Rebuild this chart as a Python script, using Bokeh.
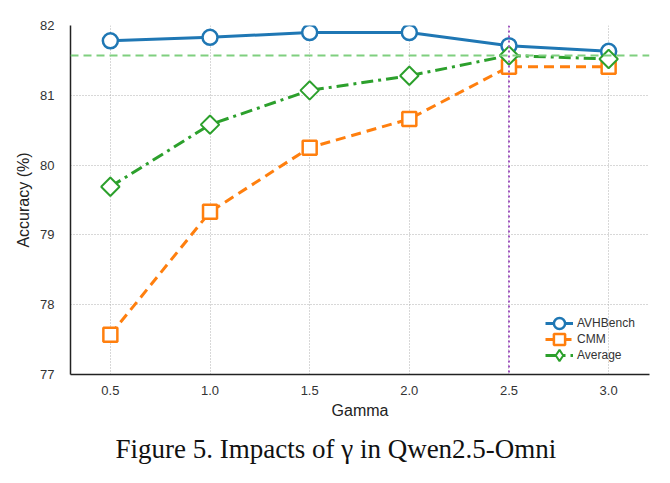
import math
from bokeh.plotting import figure
from bokeh.models import Span, Title, Legend, LegendItem, Range1d, FixedTicker
from bokeh.embed import file_html
from bokeh.resources import INLINE

gamma = [0.5, 1.0, 1.5, 2.0, 2.5, 3.0]
avhbench = [81.78, 81.83, 81.90, 81.90, 81.71, 81.63]
cmm = [77.57, 79.33, 80.25, 80.66, 81.41, 81.41]
average = [79.69, 80.58, 81.07, 81.28, 81.57, 81.52]
avg_ref = 81.57
best_gamma = 2.5
x_ticks = [0.5, 1.0, 1.5, 2.0, 2.5, 3.0]
x_tick_labels = ["0.5", "1.0", "1.5", "2.0", "2.5", "3.0"]
y_ticks = [77, 78, 79, 80, 81, 82]
series_names = ["AVHBench", "CMM", "Average"]

FONT = "Liberation Sans"

p = figure(width=670, height=483, output_backend="svg", toolbar_location=None,
           x_range=Range1d(0.30, 3.205), y_range=Range1d(77, 82),
           min_border_left=70, min_border_right=21, min_border_top=25,
           min_border_bottom=109)
p.outline_line_color = None
p.background_fill_color = "white"
p.border_fill_color = "white"

for ax in (p.xaxis[0], p.yaxis[0]):
    ax.axis_line_color = "#222222"
    ax.axis_line_width = 1.5
    ax.major_tick_line_color = None
    ax.minor_tick_line_color = None
    ax.major_label_text_font = FONT
    ax.major_label_text_font_size = "13px"
    ax.major_label_text_color = "#333333"
    ax.axis_label_text_font = FONT
    ax.axis_label_text_font_size = "16px"
    ax.axis_label_text_font_style = "normal"
    ax.axis_label_text_color = "#222222"

p.xaxis.ticker = FixedTicker(ticks=x_ticks)
p.xaxis.major_label_overrides = {t: s for t, s in zip(x_ticks, x_tick_labels)}
p.yaxis.ticker = FixedTicker(ticks=y_ticks)
p.xaxis.axis_label = "Gamma"
p.yaxis.axis_label = "Accuracy (%)"
p.xaxis.major_label_standoff = 5
p.yaxis.major_label_standoff = 10
p.xaxis.axis_label_standoff = 4

for g in (p.xgrid[0], p.ygrid[0]):
    g.grid_line_color = "#b0b0b0"
    g.grid_line_dash = "1 2"
    g.grid_line_width = 1

p.add_layout(Span(location=avg_ref, dimension="width", line_color="#7fcf7f",
                  line_dash="8 5", line_width=2))
p.add_layout(Span(location=best_gamma, dimension="height", line_color="#a053c0",
                  line_dash="2 3", line_width=2))

blue, orange, green = "#1f77b4", "#ff7f0e", "#2ca02c"

l1 = p.line(gamma, avhbench, line_color=blue, line_width=3)
m1 = p.scatter(gamma, avhbench, marker="circle", size=15, fill_color="white",
               line_color=blue, line_width=2.5)
l2 = p.line(gamma, cmm, line_color=orange, line_width=3, line_dash="10 6")
m2 = p.scatter(gamma, cmm, marker="square", size=14, fill_color="white",
               line_color=orange, line_width=2.5)
l3 = p.line(gamma, average, line_color=green, line_width=3, line_dash="12 5 3 5")
# diamond used for the legend glyph; hidden under the rotated squares below
m3_legend = p.scatter(gamma, average, marker="diamond", size=12, fill_color="white",
                      line_color=green, line_width=2)
m3 = p.scatter(gamma, average, marker="square", size=13, angle=math.pi / 4,
               fill_color="white", line_color=green, line_width=2)

# one legend per entry, stacked tightly (screen offsets from frame bottom-left)
legend_rows = [(series_names[0], [l1, m1], 36),
               (series_names[1], [l2, m2], 20),
               (series_names[2], [l3, m3_legend], 4)]
for name, rends, yoff in legend_rows:
    lg = Legend(items=[LegendItem(label=name, renderers=rends)],
                location=(475, yoff), border_line_color=None,
                background_fill_alpha=0.0, label_text_font=FONT,
                label_text_font_size="12px", label_text_color="#333333",
                glyph_width=28, glyph_height=30, spacing=0, padding=0,
                margin=0, label_standoff=4, label_height=16)
    p.add_layout(lg)

cap = Title(text="Figure 5. Impacts of γ in Qwen2.5-Omni", align="left",
            text_font="Liberation Serif", text_font_size="27px",
            text_font_style="normal", text_color="#111111", standoff=20,
            offset=45)
p.add_layout(cap, "below")

open("out.html", "w").write(file_html(p, INLINE))
